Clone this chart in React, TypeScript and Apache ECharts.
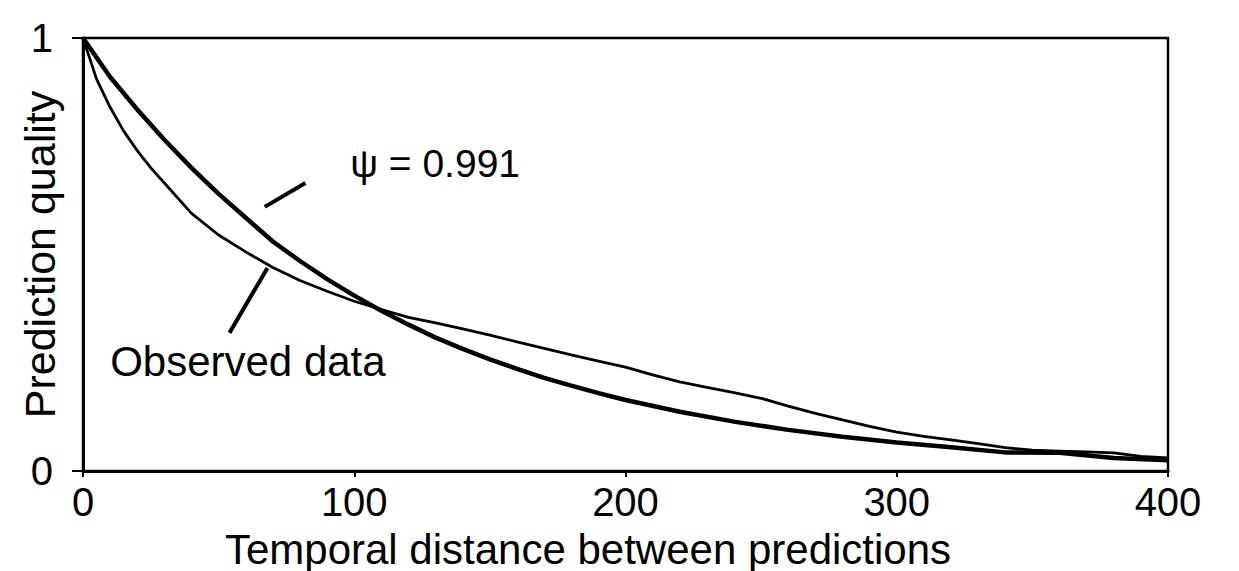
import React, { useEffect, useRef } from "react";
import * as echarts from "echarts";

// Temporal distance (x) and prediction quality (y)
const modelT = [0, 5, 10, 20, 30, 40, 50, 60, 70, 80, 90, 100, 110, 120, 130, 140, 150, 160, 170, 180, 190, 200, 220, 240, 260, 280, 300, 320, 340, 360, 380, 400];
const modelQ = [1.0, 0.955, 0.91, 0.835, 0.765, 0.70, 0.64, 0.585, 0.53, 0.485, 0.443, 0.405, 0.37, 0.338, 0.308, 0.282, 0.258, 0.236, 0.215, 0.197, 0.18, 0.164, 0.137, 0.114, 0.095, 0.079, 0.066, 0.055, 0.043, 0.042, 0.03, 0.025];

const obsT = [0, 5, 10, 15, 20, 25, 30, 40, 50, 60, 70, 80, 90, 100, 110, 120, 130, 140, 150, 160, 170, 180, 190, 200, 210, 220, 230, 240, 250, 260, 270, 280, 290, 300, 310, 320, 330, 340, 350, 360, 370, 380, 390, 400];
const obsQ = [1.0, 0.905, 0.84, 0.785, 0.74, 0.70, 0.665, 0.595, 0.545, 0.506, 0.47, 0.44, 0.415, 0.392, 0.373, 0.355, 0.342, 0.328, 0.314, 0.298, 0.283, 0.268, 0.254, 0.24, 0.222, 0.206, 0.193, 0.181, 0.168, 0.15, 0.133, 0.118, 0.103, 0.09, 0.08, 0.072, 0.063, 0.054, 0.048, 0.046, 0.044, 0.042, 0.034, 0.03];

const xTicks = [0, 100, 200, 300, 400];
const yTicks = [0, 1];

const psiLabel = "ψ = 0.991";
const obsLabel = "Observed data";
const xName = "Temporal distance between predictions";
const yName = "Prediction quality";

// annotation anchors in data coordinates
const psiPointer = [[67, 0.61], [82, 0.665]];
const obsPointer = [[68, 0.469], [54, 0.319]];
const psiLabelAt = [98.5, 0.71];
const obsLabelAt = [10, 0.252];

const FONT = "'Liberation Sans', Arial, Helvetica, sans-serif";

export default function App() {
  const ref = useRef<HTMLDivElement>(null);
  useEffect(() => {
    if (!ref.current) return;
    const chart = echarts.init(ref.current, null, { renderer: "svg" });
    const option: any = {
      animation: false,
      backgroundColor: "#fff",
      grid: {
        left: 83, right: 71, top: 38, bottom: 100,
        containLabel: false, outerBoundsMode: "none",
        show: true, borderColor: "#000", borderWidth: 2.5, backgroundColor: "transparent",
      },
      xAxis: {
        type: "value",
        min: xTicks[0],
        max: xTicks[xTicks.length - 1],
        interval: 100,
        axisLine: { show: true, onZero: false, lineStyle: { color: "#000", width: 3 } },
        axisTick: { show: true, length: 6, lineStyle: { color: "#000", width: 2 } },
        axisLabel: { color: "#000", fontSize: 40, fontFamily: FONT, margin: 11 },
        splitLine: { show: false },
      },
      yAxis: {
        type: "value",
        min: yTicks[0],
        max: yTicks[yTicks.length - 1],
        interval: 1,
        axisLine: { show: true, onZero: false, lineStyle: { color: "#000", width: 3 } },
        axisTick: { show: true, length: 11, lineStyle: { color: "#000", width: 2 } },
        axisLabel: { color: "#000", fontSize: 40, fontFamily: FONT, margin: 30 },
        splitLine: { show: false },
        name: yName,
        nameLocation: "middle",
        nameGap: 22,
        nameRotate: 90,
        nameMoveOverlap: false,
        nameTextStyle: { color: "#000", fontSize: 43, fontFamily: FONT },
      },
      series: [
        {
          type: "line",
          name: "model",
          data: modelT.map((t, i) => [t, modelQ[i]]),
          showSymbol: false,
          lineStyle: { color: "#000", width: 4.5 },
          itemStyle: { color: "#000" },
        },
        {
          type: "line",
          name: "observed",
          data: obsT.map((t, i) => [t, obsQ[i]]),
          showSymbol: false,
          lineStyle: { color: "#000", width: 2.8 },
          itemStyle: { color: "#000" },
        },
      ],
    };
    chart.setOption(option);
    const px = (p: number[]) => chart.convertToPixel({ gridIndex: 0 }, p) as number[];
    const a1 = px(psiPointer[0]), a2 = px(psiPointer[1]);
    const b1 = px(obsPointer[0]), b2 = px(obsPointer[1]);
    const pl = px(psiLabelAt), ol = px(obsLabelAt);
    chart.setOption({
      graphic: [
        { type: "line", shape: { x1: a1[0], y1: a1[1], x2: a2[0], y2: a2[1] }, style: { stroke: "#000", lineWidth: 4 } },
        { type: "line", shape: { x1: b1[0], y1: b1[1], x2: b2[0], y2: b2[1] }, style: { stroke: "#000", lineWidth: 4 } },
        { type: "text", x: pl[0], y: pl[1], style: { text: psiLabel, fill: "#000", font: `39px ${FONT}`, verticalAlign: "middle" } },
        { type: "text", x: ol[0], y: ol[1], style: { text: obsLabel, fill: "#000", font: `42px ${FONT}`, verticalAlign: "middle" } },
        { type: "text", x: 588, y: 549, style: { text: xName, fill: "#000", font: `42px ${FONT}`, align: "center", verticalAlign: "middle" } },
      ],
    });
    return () => chart.dispose();
  }, []);
  return <div ref={ref} style={{ position: "absolute", left: 0, top: 0, width: 1239, height: 571 }} />;
}
